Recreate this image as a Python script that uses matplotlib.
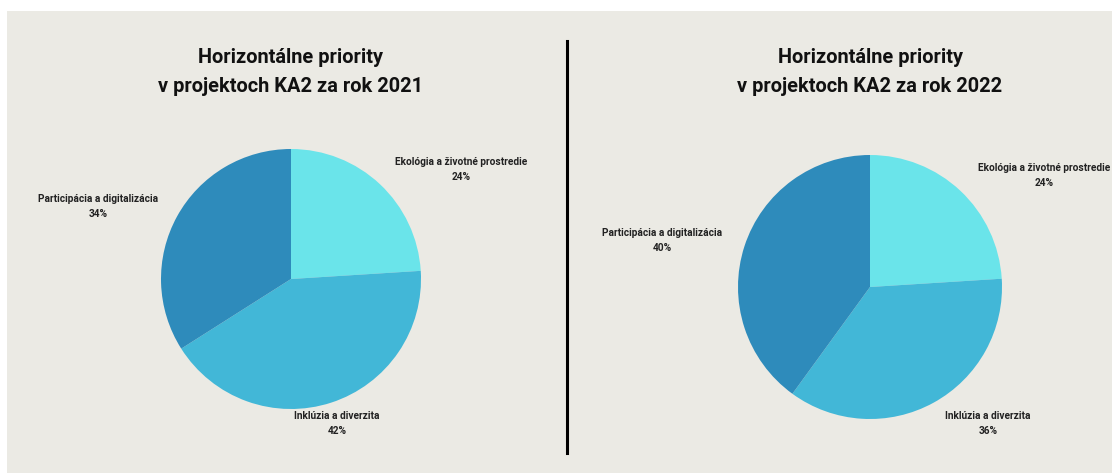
import matplotlib
matplotlib.use("Agg")
import matplotlib.pyplot as plt
from matplotlib.patches import Rectangle
from matplotlib.lines import Line2D

# ---- data ----
categories = ["Ekológia a životné prostredie", "Inklúzia a diverzita", "Participácia a digitalizácia"]
values_2021 = [24, 42, 34]
values_2022 = [24, 36, 40]
titles = ["Horizontálne priority\nv projektoch KA2 za rok 2021",
          "Horizontálne priority\nv projektoch KA2 za rok 2022"]
colors = ["#6ae4ea", "#42b7d7", "#2e8bbb"]

# label positions (data coords of a unit pie)
label_pos_2021 = [(1.308, 0.842), (0.354, -1.112), (-1.485, 0.558)]
label_pos_2022 = [(1.32, 0.845), (0.894, -1.034), (-1.576, 0.352)]

W, H = 1112, 473
fig = plt.figure(figsize=(W / 100, H / 100), dpi=100)
fig.patch.set_facecolor("white")
fig.patches.append(Rectangle((7 / W, 0), 1 - 7 / W, (H - 11) / H,
                             transform=fig.transFigure, facecolor="#ebeae4",
                             edgecolor="none", zorder=-5))
fig.lines.append(Line2D([567 / W, 567 / W], [(H - 453) / H, (H - 41) / H],
                        transform=fig.transFigure, color="black", lw=2.2,
                        zorder=-4))

FONT = "Roboto"


def draw(cx, cy, r, vals, title, lpos):
    ax = fig.add_axes([(cx - r) / W, (H - cy - r) / H, 2 * r / W, 2 * r / H])
    ax.set_zorder(2)
    ax.patch.set_visible(False)
    ax.pie(vals, colors=colors, startangle=90, counterclock=False,
           radius=1, wedgeprops=dict(linewidth=0))
    ax.set_xlim(-1, 1)
    ax.set_ylim(-1, 1)
    ax.set_aspect("equal")
    ax.axis("off")
    for cat, v, (x, y) in zip(categories, vals, lpos):
        ax.text(x, y, f"{cat}\n{v}%", ha="center", va="center", fontsize=7.3,
                fontweight="bold", family=FONT, color="#222222",
                linespacing=1.6, clip_on=False)
    fig.text(cx / W, (H - 72) / H, title, ha="center", va="center",
             fontsize=14.4, fontweight="bold", family=FONT, color="#111111",
             linespacing=1.64)


draw(291, 279, 130, values_2021, titles[0], label_pos_2021)
draw(870, 287, 132, values_2022, titles[1], label_pos_2022)

fig.savefig("out.png", dpi=100, facecolor=fig.get_facecolor())
